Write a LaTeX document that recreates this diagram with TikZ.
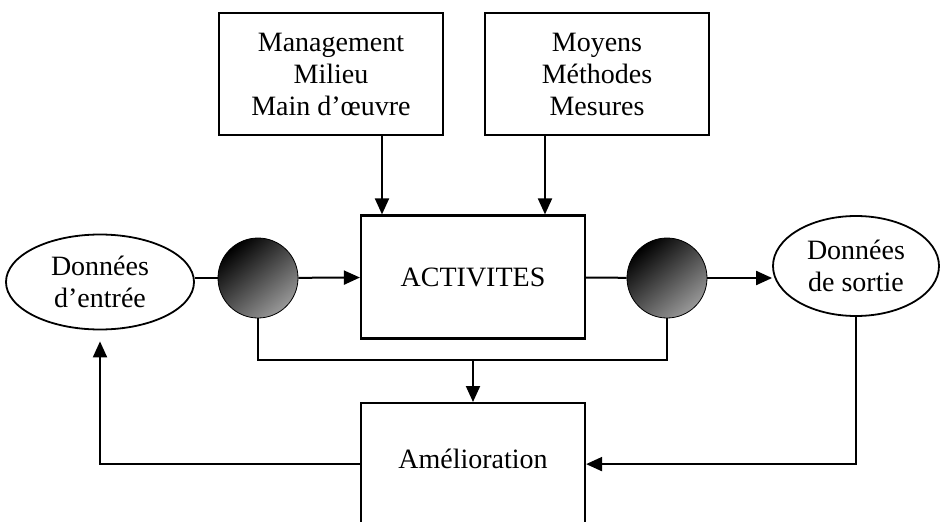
\documentclass[tikz,border=0pt]{standalone}
\usepackage{fontspec}
\setmainfont{Liberation Serif}
\usetikzlibrary{arrows.meta,shapes.geometric}
\tikzset{%
  every box/.style={
    rectangle,
    draw,
    line width=2.2pt,
    align=center,
    inner sep=0pt,
    minimum width=224pt,
    minimum height=122pt
  },
  every data/.style={
    ellipse,
    draw,
    line width=1.8pt,
    align=center,
    inner sep=0pt
  },
  every gate/.style={
    circle,
    draw=black,
    line width=0.8pt,
    minimum size=80pt,
    inner sep=0pt,
    top color=black,
    middle color=black!92,
    bottom color=black!40,
    shading angle=40
  },
}

\begin{document}
\begin{tikzpicture}[x=1pt, y=-1pt, >={Triangle[length=16pt,width=14pt]}, line width=2pt, font=\fontsize{28}{32}\selectfont]
\useasboundingbox (0,0) rectangle (943,522);

% Resource boxes
\node [every box/.try] (ressources) at (331,74) {Management\\Milieu\\Main d’œuvre};
\node [every box/.try] (moyens) at (597,74) {Moyens\\Méthodes\\Mesures};

% Process
\node [every box/.try, minimum height=123pt] (activites) at (473,277) {ACTIVITES};

% Improvement box, cut by the bottom edge
\node [every box/.try, minimum height=0pt, text height=65pt, text depth=57pt, anchor=north] (amelioration) at (473,402) {Amélioration};

% Input and output data
\node [every data/.try, minimum width=188pt, minimum height=95pt] (entree) at (100,282) {Données\\d’entrée};
\node [every data/.try, minimum width=166pt, minimum height=100pt] (sortie) at (856,266) {Données\\de sortie};

% Check points
\foreach \m/\x in {1/258, 2/667}
  \node [every gate/.try] (gate-\m) at (\x,278) {};

\coordinate (bilan) at (473,360);

% ALL OF THE ARROWS
\draw [->] ([xshift=51pt]ressources.south) -- ([xshift=51pt]ressources.south |- activites.north);
\draw [->] ([xshift=-52pt]moyens.south) -- ([xshift=-52pt]moyens.south |- activites.north);

\draw (entree.east |- gate-1.west) -- (gate-1.west);
\draw [->] (gate-1) -- (activites);
\draw (activites) -- (gate-2);
\draw [->] (gate-2.east) -- (gate-2.east -| sortie.west);

\draw (gate-1.south) |- (bilan) -| (gate-2.south);
\draw [->] (bilan) -- (amelioration.north);

\draw [->, shorten >=11pt] (amelioration.west) -| (entree.south);
\draw [->] (sortie.south) |- (amelioration.east);

\end{tikzpicture}
\end{document}
